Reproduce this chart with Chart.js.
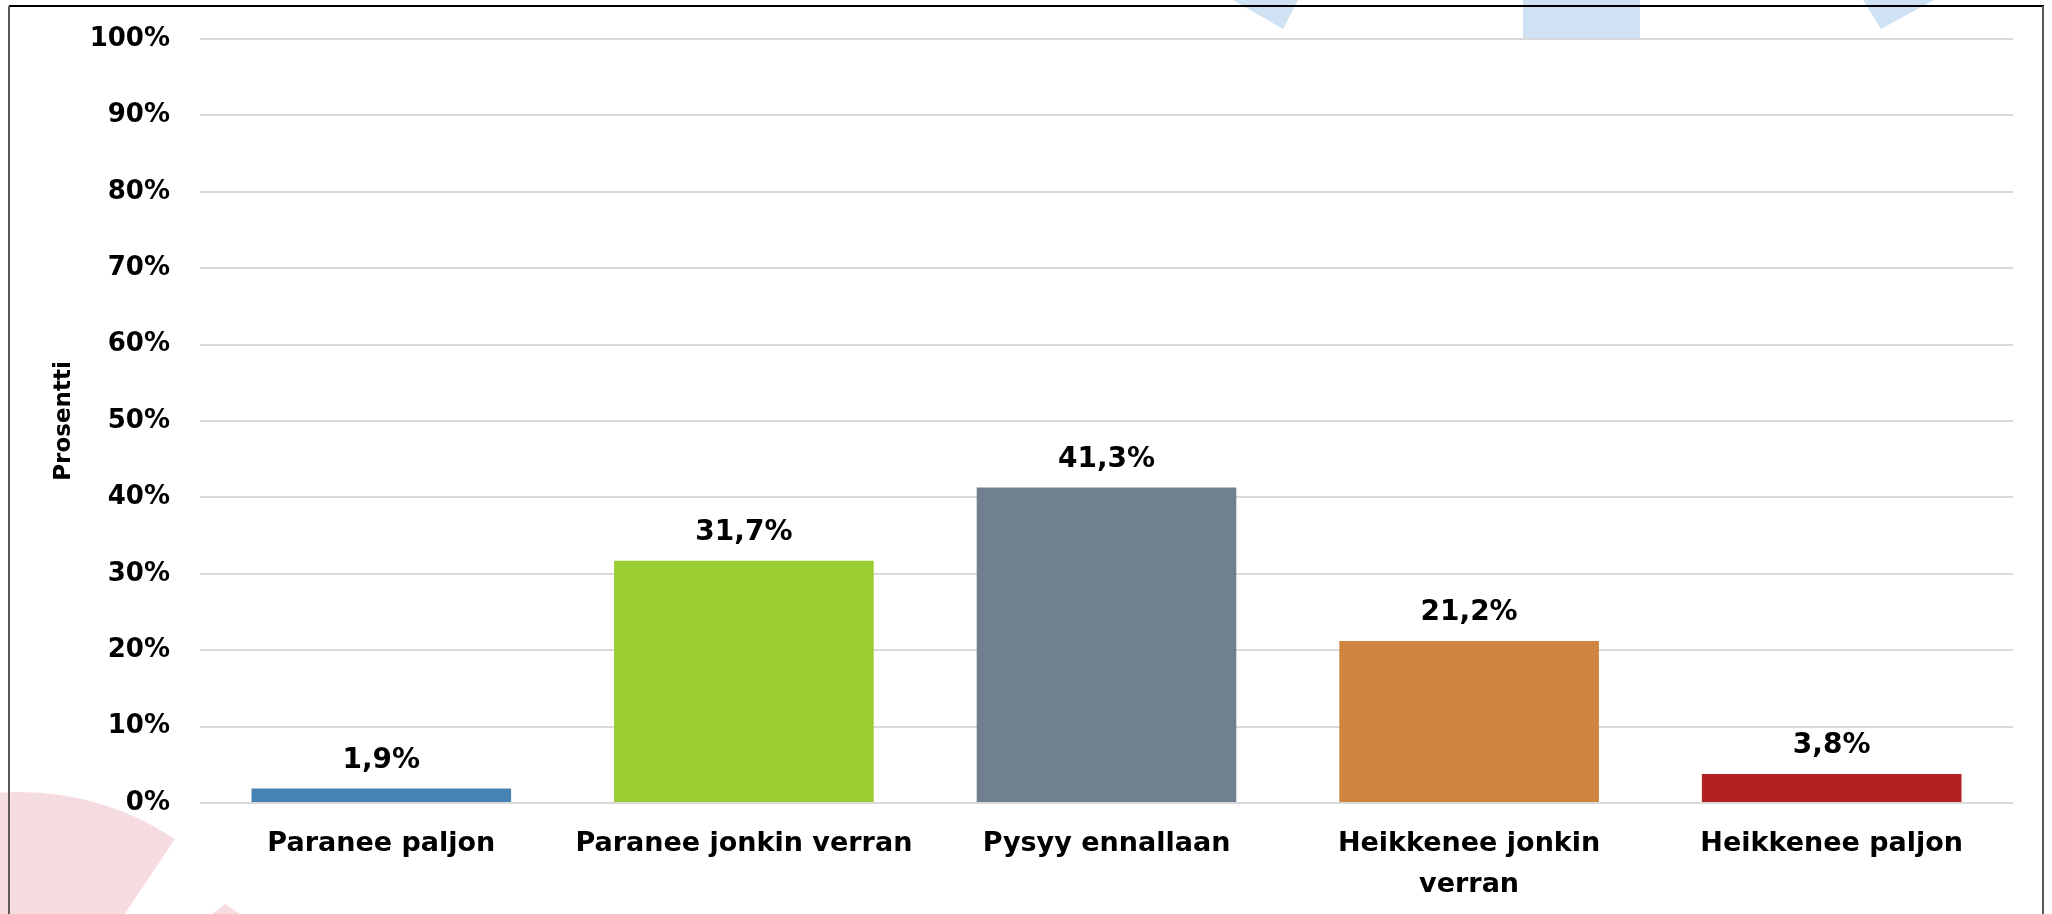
<!DOCTYPE html>
<html lang="fi">
<head>
<meta charset="utf-8">
<title>Prosentti</title>
<script src="https://cdn.jsdelivr.net/npm/chart.js@4/dist/chart.umd.min.js"></script>
<style>
    html, body { margin: 0; padding: 0; background: #ffffff; }
    #wrap { width: 2052px; height: 914px; position: relative; }
</style>
</head>
<body>
<div id="wrap">
    <canvas id="barChart" width="2052" height="914"></canvas>
</div>
<script>
// --- data ---
const categories = ['Paranee paljon', 'Paranee jonkin verran', 'Pysyy ennallaan', ['Heikkenee jonkin', 'verran'], 'Heikkenee paljon'];
const values = [1.9, 31.7, 41.3, 21.2, 3.8];
const barColors = ['#4682B4', '#9ACD32', '#708090', '#CD853F', '#B22222'];
const yTicks = [0, 10, 20, 30, 40, 50, 60, 70, 80, 90, 100];
const yTitle = 'Prosentti';

const FONT = "'DejaVu Sans', 'Liberation Sans', sans-serif";

// 1,9% style (comma as decimal separator)
function fmtPercent(v) {
    return v.toFixed(1).replace('.', ',') + '%';
}

// faint background shapes and the frame round the picture
const backdropPlugin = {
    id: 'backdrop',
    beforeDraw(chart) {
        const ctx = chart.ctx;
        ctx.save();
        ctx.fillStyle = '#ffffff';
        ctx.fillRect(0, 0, chart.width, chart.height);

        // light blue pieces at the top edge
        ctx.fillStyle = '#CFE2F3';
        ctx.beginPath();
        ctx.moveTo(1233, 0); ctx.lineTo(1298, 0); ctx.lineTo(1283, 29); ctx.closePath();
        ctx.fill();
        ctx.fillRect(1523, 0, 117, 39);
        ctx.beginPath();
        ctx.moveTo(1863, 0); ctx.lineTo(1934, 0); ctx.lineTo(1881, 29); ctx.closePath();
        ctx.fill();

        // pink wedge in the lower left corner
        ctx.fillStyle = '#F5DCE0';
        ctx.beginPath();
        ctx.moveTo(20, 1070);
        ctx.arc(20, 1070, 278, Math.PI, -0.98, false);
        ctx.closePath();
        ctx.fill();
        ctx.beginPath();
        ctx.moveTo(225, 904); ctx.lineTo(240, 914); ctx.lineTo(212, 914); ctx.closePath();
        ctx.fill();

        // frame
        ctx.fillStyle = '#000000';
        ctx.fillRect(9, 5, 2035, 2);
        ctx.fillStyle = '#595959';
        ctx.fillRect(8, 6, 2, 908);
        ctx.fillRect(2042, 6, 2, 908);
        ctx.restore();
    }
};

// value labels above each bar
const valueLabelPlugin = {
    id: 'valueLabels',
    afterDatasetsDraw(chart) {
        const ctx = chart.ctx;
        const meta = chart.getDatasetMeta(0);
        ctx.save();
        ctx.font = 'bold 28px ' + FONT;
        ctx.fillStyle = '#000000';
        ctx.textAlign = 'center';
        ctx.textBaseline = 'middle';
        meta.data.forEach((bar, i) => {
            ctx.fillText(fmtPercent(values[i]), bar.x, bar.y - 28);
        });
        ctx.restore();
    }
};

const barChart = new Chart(document.getElementById('barChart').getContext('2d'), {
    type: 'bar',
    data: {
        labels: categories,
        datasets: [{
            data: values,
            backgroundColor: barColors,
            borderWidth: 0,
            barPercentage: 0.716,
            categoryPercentage: 1.0
        }]
    },
    options: {
        responsive: false,
        animation: false,
        devicePixelRatio: 1,
        layout: { autoPadding: false, padding: { left: 0, top: 39, right: 39, bottom: 0 } },
        plugins: {
            legend: { display: false },
            tooltip: { enabled: false }
        },
        scales: {
            x: {
                grid: { display: false, drawTicks: false },
                border: { display: false },
                ticks: {
                    color: '#000000',
                    padding: 21,
                    maxRotation: 0,
                    autoSkip: false,
                    font: { family: FONT, size: 27, weight: 'bold', lineHeight: 1.5 }
                },
                afterFit(scale) { scale.height = 111; }
            },
            y: {
                min: 0,
                max: 100,
                afterBuildTicks(scale) { scale.ticks = yTicks.map(v => ({ value: v })); },
                grid: { color: '#D9D9D9', lineWidth: 2, drawTicks: false },
                border: { display: false },
                ticks: {
                    color: '#000000',
                    padding: 30,
                    font: { family: FONT, size: 26, weight: 'bold' },
                    callback: v => v + '%'
                },
                title: {
                    display: true,
                    text: yTitle,
                    color: '#000000',
                    padding: { top: 50, bottom: 0 },
                    font: { family: FONT, size: 23, weight: 'bold', lineHeight: 1.2 }
                },
                afterFit(scale) {
                    scale.width = 200;
                    scale.paddingTop = 0;
                    scale.paddingBottom = 0;
                }
            }
        }
    },
    plugins: [backdropPlugin, valueLabelPlugin]
});
</script>
</body>
</html>
